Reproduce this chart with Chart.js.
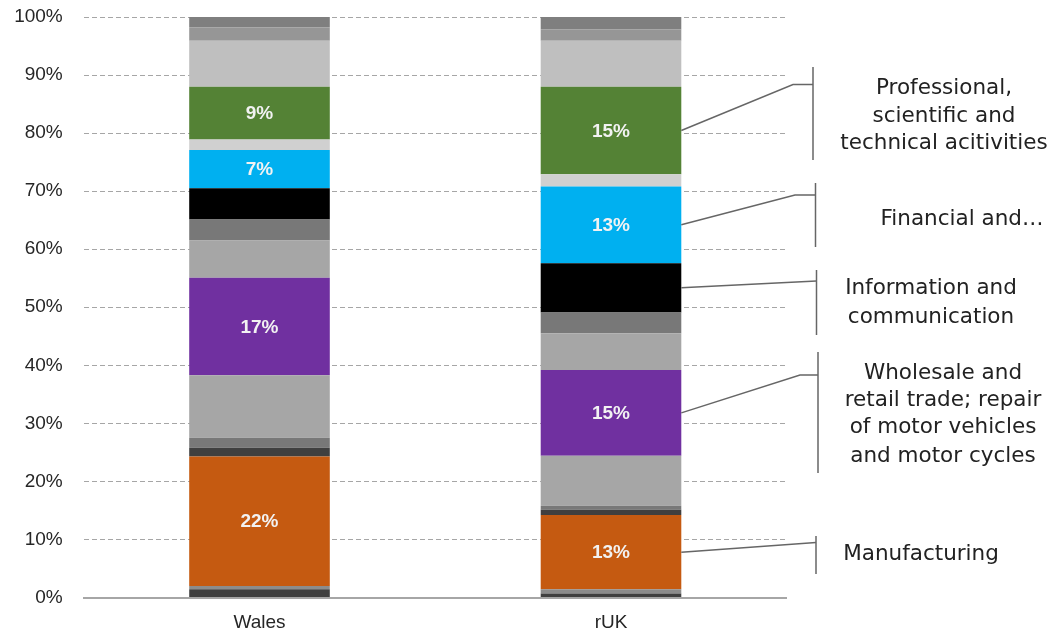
<!DOCTYPE html>
<html>
<head>
<meta charset="utf-8">
<title>Wales vs rUK sector shares</title>
<script src="https://cdn.jsdelivr.net/npm/chart.js@4.4.1/dist/chart.umd.min.js"></script>
<style>
  html, body { margin: 0; padding: 0; background: #fff; }
  #wrap { width: 1056px; height: 635px; position: relative; }
</style>
</head>
<body>
<div id="wrap"><canvas id="chart"></canvas></div>
<script>
// data, bottom segment first (% of total)
const categories = ['Wales', 'rUK'];
const walesShares = [1.4, 0.6, 22.3, 1.5, 1.7, 10.8, 16.8, 6.4, 3.6, 5.4, 6.6, 1.8, 9.1, 7.9, 2.3, 1.8];
const rukShares = [0.7, 0.7, 12.8, 0.9, 0.7, 8.6, 14.8, 6.3, 3.6, 8.5, 13.2, 2.1, 15.1, 7.9, 2.0, 2.1];
const sectorNames = [
  'Sector A', 'Sector B', 'Manufacturing', 'Sector D', 'Sector E', 'Sector F',
  'Wholesale and retail trade; repair of motor vehicles and motor cycles',
  'Sector H', 'Sector I', 'Information and communication', 'Financial and insurance',
  'Sector L', 'Professional, scientific and technical acitivities', 'Sector N', 'Sector O', 'Sector P'
];
const labelledSectors = [2, 6, 10, 12];

// callout texts
const professionalText = ['Professional,', 'scientific and', 'technical acitivities'];
const financialText = ['Financial and…'];
const informationText = ['Information and', 'communication'];
const wholesaleText = ['Wholesale and', 'retail trade; repair', 'of motor vehicles', 'and motor cycles'];
const manufacturingText = ['Manufacturing'];

const colours = [
  '#404040', '#8c8c8c', '#c55a11', '#3f3f3f', '#787878', '#a6a6a6',
  '#7030a0', '#a6a6a6', '#787878', '#000000', '#00b0f0',
  '#d0d0d0', '#548235', '#bfbfbf', '#969696', '#7f7f7f'
];

const datasets = sectorNames.map((name, i) => ({
  label: name,
  data: [walesShares[i], rukShares[i]],
  backgroundColor: colours[i],
  borderWidth: 0,
  categoryPercentage: 0.8,
  barPercentage: 0.5,
}));

const callouts = [
  { sector: 12, lines: professionalText, elbow: [793, 84.5], bracket: [813, 67, 160], textX: 944, textY: [88, 116, 143] },
  { sector: 10, lines: financialText, elbow: [795, 195], bracket: [815.5, 183, 247], textX: 962, textY: [219] },
  { sector: 9, lines: informationText, elbow: [816.5, 281], bracket: [816.5, 270, 335], textX: 931, textY: [288, 317] },
  { sector: 6, lines: wholesaleText, elbow: [800, 375], bracket: [818, 352, 473], textX: 943, textY: [373, 400, 427, 456] },
  { sector: 2, lines: manufacturingText, elbow: [816, 542.5], bracket: [816, 536, 574], textX: 921, textY: [554] },
];

const valueLabels = {
  id: 'valueLabels',
  afterDatasetsDraw(chart) {
    const ctx = chart.ctx;
    ctx.save();
    ctx.font = 'bold 19px "Liberation Sans", Arial, sans-serif';
    ctx.fillStyle = '#f2f2f2';
    ctx.textAlign = 'center';
    ctx.textBaseline = 'middle';
    labelledSectors.forEach((i) => {
      const meta = chart.getDatasetMeta(i);
      meta.data.forEach((bar, j) => {
        const v = chart.data.datasets[i].data[j];
        ctx.fillText(Math.round(v) + '%', bar.x, (bar.y + bar.base) / 2 + 1);
      });
    });
    ctx.restore();
  }
};

const calloutPlugin = {
  id: 'callouts',
  afterDraw(chart) {
    const ctx = chart.ctx;
    ctx.save();
    callouts.forEach((c) => {
      const bar = chart.getDatasetMeta(c.sector).data[1];
      const sx = bar.x + bar.width / 2;
      const sy = (bar.y + bar.base) / 2;
      ctx.strokeStyle = '#666666';
      ctx.lineWidth = 1.5;
      ctx.beginPath();
      ctx.moveTo(sx, sy);
      ctx.lineTo(c.elbow[0], c.elbow[1]);
      ctx.lineTo(c.bracket[0], c.elbow[1]);
      ctx.stroke();
      ctx.beginPath();
      ctx.moveTo(c.bracket[0], c.bracket[1]);
      ctx.lineTo(c.bracket[0], c.bracket[2]);
      ctx.stroke();
      ctx.font = '21.5px "DejaVu Sans", sans-serif';
      ctx.fillStyle = '#222222';
      ctx.textAlign = 'center';
      ctx.textBaseline = 'middle';
      c.lines.forEach((line, k) => ctx.fillText(line, c.textX, c.textY[k]));
    });
    ctx.restore();
  }
};

new Chart(document.getElementById('chart'), {
  type: 'bar',
  data: { labels: categories, datasets },
  options: {
    responsive: true,
    maintainAspectRatio: false,
    animation: false,
    layout: { padding: { top: 17, right: 269.25, left: 0, bottom: 0 } },
    plugins: { legend: { display: false }, tooltip: { enabled: false } },
    scales: {
      x: {
        stacked: true,
        grid: { display: false, drawTicks: false },
        border: { display: true, color: '#a6a6a6', width: 2 },
        ticks: { color: '#262626', padding: 14, font: { family: '"Liberation Sans", Arial, sans-serif', size: 19 } },
        afterFit: (scale) => { scale.height = 37.5; },
      },
      y: {
        stacked: true,
        min: 0,
        max: 100,
        grid: { color: '#a6a6a6', lineWidth: 1, drawTicks: false },
        border: { display: false, dash: [5, 3] },
        ticks: {
          stepSize: 10,
          padding: 21,
          color: '#262626',
          font: { family: '"Liberation Sans", Arial, sans-serif', size: 19 },
          callback: (v) => v + '%',
        },
        afterFit: (scale) => {
          scale.width = 83.75;
          scale.paddingTop = 0;
          scale.paddingBottom = 0;
        },
      },
    },
  },
  plugins: [valueLabels, calloutPlugin],
});
</script>
</body>
</html>
